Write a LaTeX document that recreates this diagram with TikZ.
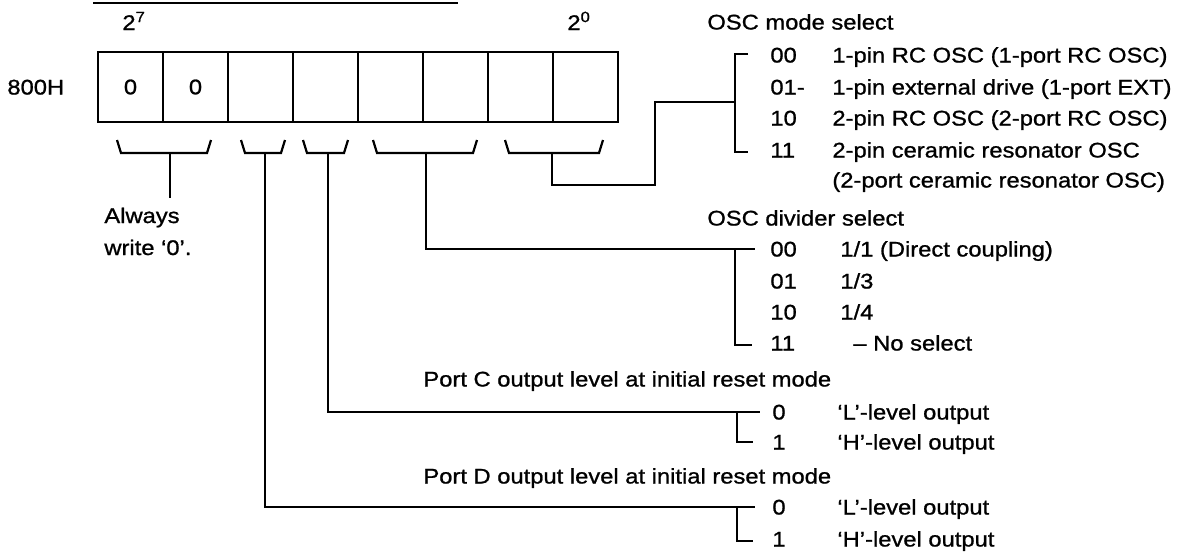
\documentclass[tikz,border=0pt]{standalone}
\usepackage{fontspec}
\setmainfont{Liberation Sans}[FakeStretch=1.12, FakeBold=1]
\tikzset{
    font=\fontsize{10.6}{15}\selectfont,
    wire/.style={line width=1.1pt},
    bitcell/.style={rectangle, draw, line width=1.3pt, minimum width=32.5pt, minimum height=35pt, inner sep=0pt},
    txt/.style={anchor=base west, inner sep=0pt}
}
\begin{document}
\begin{tikzpicture}[x=0.5pt, y=-0.5pt]
    \useasboundingbox (0,0) rectangle (1194,554);

    % register 800H
    \draw [wire] (93,3) -- (458,3);
    \node (msb)  [txt] at (122,30) {2\textsuperscript{7}};
    \node (lsb)  [txt] at (567,30) {2\textsuperscript{0}};
    \node (addr) [txt] at (7,94.5) {800H};
    \foreach \b/\v in {7/0,6/0,5/,4/,3/,2/,1/,0/}
        \node (b\b) [bitcell] at ({130.5+(7-\b)*65},87) {\v};

    % braces under the bit groups
    \foreach \l/\r in {117/211, 241/285, 303/348, 373/477, 505/603}
        \draw [wire] (\l,140) -- (\l+4,153) -- (\r-4,153) -- (\r,140);
    \coordinate (g76) at (170,153);
    \coordinate (g5)  at (265,153);
    \coordinate (g4)  at (328,153);
    \coordinate (g32) at (426,153);
    \coordinate (g10) at (552,153);

    % bits 7,6
    \coordinate (aw) at (170,198);
    \node (always1) [txt] at (104,223) {Always};
    \node (always2) [txt] at (104,255) {write ‘0’.};
    \draw [wire] (g76) -- (aw);

    % OSC mode select
    \node (modehd) [txt] at (707,29.5) {OSC mode select};
    \node (m00) [txt] at (770,62.5)  {00};
    \node (m01) [txt] at (770,94.5)  {01-};
    \node (m10) [txt] at (770,125.5) {10};
    \node (m11) [txt] at (770,157.5) {11};
    \node (m00t) [txt] at (832,62.5)  {1-pin RC OSC (1-port RC OSC)};
    \node (m01t) [txt] at (832,94.5)  {1-pin external drive (1-port EXT)};
    \node (m10t) [txt] at (832,125.5) {2-pin RC OSC (2-port RC OSC)};
    \node (m11t) [txt] at (832,157.5) {2-pin ceramic resonator OSC};
    \node (m11u) [txt] at (832,187.5) {(2-port ceramic resonator OSC)};
    \coordinate (k1) at (655,185);
    \coordinate (mj) at (735,102);
    \coordinate (mt) at (748,54);
    \coordinate (mb) at (748,152);
    \draw [wire] (g10) |- (k1) |- (mj);
    \draw [wire] (mt) -- ++(-13,0) |- (mb);

    % OSC divider select
    \node (divhd) [txt] at (707,225.5) {OSC divider select};
    \node (d00) [txt] at (770,256.5) {00};
    \node (d01) [txt] at (770,288.5) {01};
    \node (d10) [txt] at (770,319.5) {10};
    \node (d11) [txt] at (770,350.5) {11};
    \node (d00t) [txt] at (840,256.5) {1/1 (Direct coupling)};
    \node (d01t) [txt] at (840,288.5) {1/3};
    \node (d10t) [txt] at (840,319.5) {1/4};
    \node (d11t) [txt] at (853,350.5) {-- No select};
    \coordinate (dv) at (755,249);
    \coordinate (dj) at (735,249);
    \coordinate (db) at (752,345);
    \draw [wire] (g32) |- (dv);
    \draw [wire] (dj) |- (db);

    % Port C
    \node (pchd) [txt] at (423,386.5) {Port C output level at initial reset mode};
    \node (pc0) [txt] at (772,419.5) {0};
    \node (pc1) [txt] at (772,449.5) {1};
    \node (pc0t) [txt] at (837,419.5) {‘L’-level output};
    \node (pc1t) [txt] at (837,449.5) {‘H’-level output};
    \coordinate (pc) at (760,412);
    \coordinate (pcj) at (737,412);
    \coordinate (pcb) at (753,442);
    \draw [wire] (g4) |- (pc);
    \draw [wire] (pcj) |- (pcb);

    % Port D
    \node (pdhd) [txt] at (423,483.5) {Port D output level at initial reset mode};
    \node (pd0) [txt] at (772,514.5) {0};
    \node (pd1) [txt] at (772,546.5) {1};
    \node (pd0t) [txt] at (837,514.5) {‘L’-level output};
    \node (pd1t) [txt] at (837,546.5) {‘H’-level output};
    \coordinate (pd) at (755,507);
    \coordinate (pdj) at (737,507);
    \coordinate (pdb) at (753,541);
    \draw [wire] (g5) |- (pd);
    \draw [wire] (pdj) |- (pdb);

\end{tikzpicture}
\end{document}
